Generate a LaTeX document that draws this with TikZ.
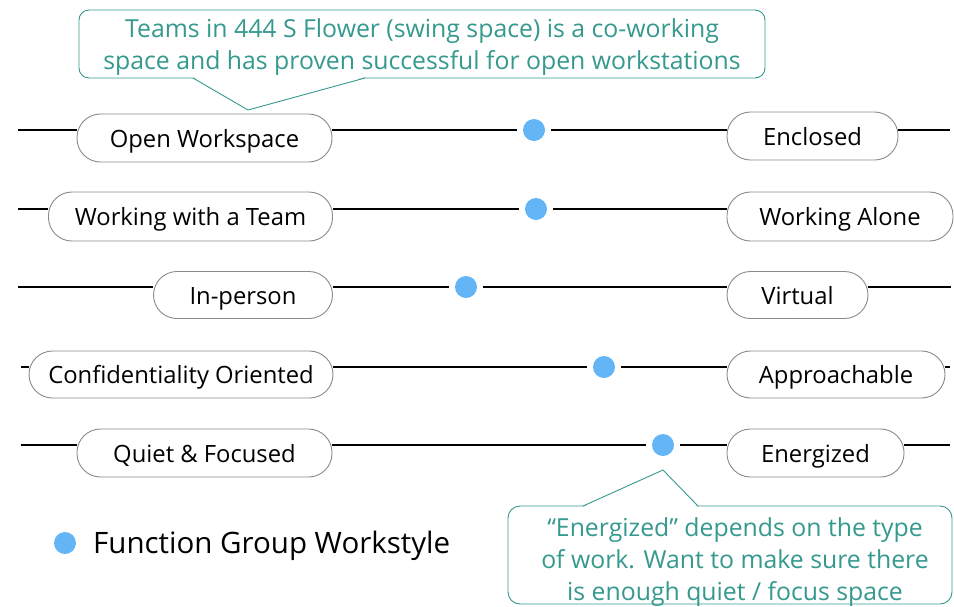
\documentclass[tikz,border=0pt]{standalone}
\usepackage{fontspec}
\setmainfont{Open Sans}
\definecolor{dotblue}{HTML}{64B5F6}
\definecolor{teal2}{HTML}{35998E}
\definecolor{pillgray}{HTML}{8A8A8A}
\tikzset{
  pill/.style={draw=pillgray, line width=0.9pt, fill=white, rounded corners=23.5pt,
    inner sep=0pt, text height=23pt, text depth=5pt, font=\fontsize{23.8}{26}\selectfont, text=black},
  axis/.style={line width=2.8pt, black},
  wsdot/.style={circle, fill=dotblue, inner sep=0pt, minimum size=22pt},
  callout/.style={draw=teal2, line width=0.9pt},
  callouttext/.style={text=teal2, align=center, font=\fontsize{24.8}{32}\selectfont, inner sep=0pt},
}
\begin{document}
\begin{tikzpicture}[x=1pt,y=-1pt]
\useasboundingbox (0,0) rectangle (954,606);
% callouts
\draw[callout, fill=white, rounded corners=10pt] (79,10) rectangle (765,78);
\fill[white] (194,77.2) -- (248,110) -- (364,77.2) -- cycle;
\draw[callout] (193,78) -- (248,110) -- (365,78);
\node[callouttext] (c1) at (422,47) {Teams in 444 S Flower (swing space) is a co-working\\space and has proven successful for open workstations};

\draw[callout, fill=white, rounded corners=12pt] (508,506) rectangle (952,604);
\fill[white] (584,506.8) -- (663,470) -- (697,506.8) -- cycle;
\draw[callout] (583,506) -- (663,470) -- (698,506);
\node[callouttext] (c2) at (735,562) {“Energized” depends on the type\\of work. Want to make sure there\\is enough quiet / focus space};

% pills
\node[pill, minimum width=255pt, minimum height=48pt] (L1) at (204.5,138) {Open Workspace};
\node[pill, minimum width=284pt, minimum height=49pt] (L2) at (190.5,216.5) {Working with a Team};
\node[pill, minimum width=179pt, minimum height=47pt] (L3) at (243,295) {In-person};
\node[pill, minimum width=304pt, minimum height=47pt] (L4) at (181,374.5) {Confidentiality Oriented};
\node[pill, minimum width=255pt, minimum height=48pt] (L5) at (204.5,453) {Quiet \& Focused};
\node[pill, minimum width=171pt, minimum height=48pt] (R1) at (812.5,136) {Enclosed};
\node[pill, minimum width=226pt, minimum height=49pt] (R2) at (840,216.5) {Working Alone};
\node[pill, minimum width=141pt, minimum height=47pt] (R3) at (797.5,295) {Virtual};
\node[pill, minimum width=218pt, minimum height=47pt] (R4) at (836,374.5) {Approachable};
\node[pill, minimum width=177pt, minimum height=48pt] (R5) at (815.5,453) {Energized};

% dots
\node[wsdot] (d1) at (534,130) {};
\node[wsdot] (d2) at (536,209) {};
\node[wsdot] (d3) at (466,287) {};
\node[wsdot] (d4) at (604,367) {};
\node[wsdot] (d5) at (663,445) {};

% line ends
\coordinate (a1) at (18,130); \coordinate (b1) at (950,130);
\coordinate (a2) at (18,209);
\coordinate (a3) at (18,287); \coordinate (b3) at (951,287);
\coordinate (a4) at (21,367); \coordinate (b4) at (950,367);
\coordinate (a5) at (21,445); \coordinate (b5) at (950,445);

\draw[axis] (a1) -- (L1.west |- a1);
\draw[axis, shorten >=6pt] (L1.east |- a1) -- (d1);
\draw[axis, shorten <=6pt] (d1) -- (R1.west |- a1);
\draw[axis] (R1.east |- a1) -- (b1);

\draw[axis] (a2) -- (L2.west |- a2);
\draw[axis, shorten >=6pt] (L2.east |- a2) -- (d2);
\draw[axis, shorten <=6pt] (d2) -- (R2.west |- a2);

\draw[axis] (a3) -- (L3.west |- a3);
\draw[axis, shorten >=6pt] (L3.east |- a3) -- (d3);
\draw[axis, shorten <=6pt] (d3) -- (R3.west |- a3);
\draw[axis] (R3.east |- a3) -- (b3);

\draw[axis] (a4) -- (L4.west |- a4);
\draw[axis, shorten >=6pt] (L4.east |- a4) -- (d4);
\draw[axis, shorten <=6pt] (d4) -- (R4.west |- a4);
\draw[axis] (R4.east |- a4) -- (b4);

\draw[axis] (a5) -- (L5.west |- a5);
\draw[axis, shorten >=6pt] (L5.east |- a5) -- (d5);
\draw[axis, shorten <=6pt] (d5) -- (R5.west |- a5);
\draw[axis] (R5.east |- a5) -- (b5);

% legend
\node[wsdot] (ld) at (65,543) {};
\node[anchor=base west, inner sep=0pt, font=\fontsize{29.5}{32}\selectfont] (lt) at (93,553) {Function Group Workstyle};
\end{tikzpicture}
\end{document}
